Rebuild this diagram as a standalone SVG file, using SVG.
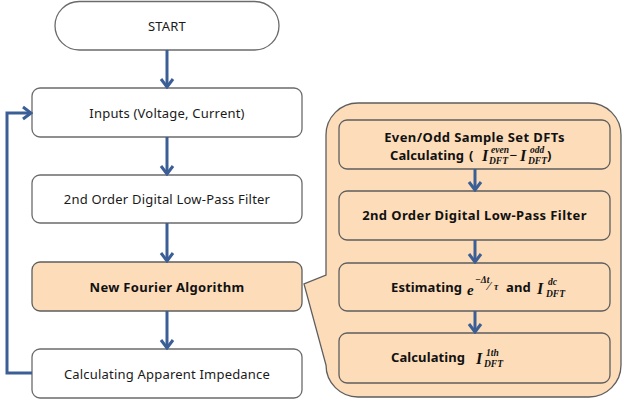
<svg xmlns="http://www.w3.org/2000/svg" width="623" height="404" viewBox="0 0 623 404">
  <style>
    .box { fill: #ffffff; stroke: #6b6b6b; stroke-width: 1.3; }
    .hl { fill: #fcdcb9; stroke: #5e5e5e; stroke-width: 1.3; }
    .lbl { font-family: "Noto Sans", "Open Sans", sans-serif; font-size: 13px; fill: #1a1a1a; text-anchor: middle; letter-spacing: 0.2px; }
    .bold { font-weight: bold; fill: #111111; letter-spacing: 0.3px; }
    .txt { font-family: "Noto Sans", "Open Sans", sans-serif; font-size: 13px; font-weight: bold; fill: #111111; letter-spacing: 0.1px; }
    .wide { letter-spacing: 0.4px; text-anchor: middle; }
    .m { font-family: "Liberation Serif", "DejaVu Serif", serif; font-style: italic; font-weight: bold; fill: #111111; }
    .mi { font-size: 16px; }
    .ms { font-size: 9.5px; }
    .flow { fill: none; stroke: #3b5e96; stroke-width: 3; }
  </style>
  <defs>
    <marker id="chev" markerUnits="userSpaceOnUse" viewBox="-11 -8 13 16" markerWidth="13" markerHeight="16" refX="0" refY="0" orient="auto">
      <path d="M-8,-6 L0,0 L-8,6" fill="none" stroke="#3b5e96" stroke-width="3" stroke-linejoin="miter"/>
    </marker>
  </defs>

  <!-- main flow nodes -->
  <g id="start">
    <rect class="box" x="55" y="1.5" width="224" height="48.5" rx="24.25"/>
    <text class="lbl" x="167" y="31">START</text>
  </g>
  <g id="inputs">
    <rect class="box" x="32" y="88" width="270" height="49" rx="8"/>
    <text class="lbl" x="167" y="118">Inputs (Voltage, Current)</text>
  </g>
  <g id="lowpass">
    <rect class="box" x="32" y="175" width="270" height="48" rx="8"/>
    <text class="lbl" x="167" y="204">2nd Order Digital Low-Pass Filter</text>
  </g>

  <!-- detail callout for the Fourier step -->
  <g id="fourier-detail">
    <path class="hl" d="M358,103 H589 A32,32 0 0 1 621,135 V365 A32,32 0 0 1 589,397 H358 A32,32 0 0 1 326,365 L304,284 L326,275 V135 A32,32 0 0 1 358,103 Z"/>
  </g>

  <g id="fourier">
    <rect class="hl" x="32" y="262" width="270" height="49" rx="8"/>
    <text class="lbl bold" x="167" y="292" font-weight="bold">New Fourier Algorithm</text>
  </g>
  <g id="impedance">
    <rect class="box" x="32" y="349" width="270" height="49" rx="8"/>
    <text class="lbl" x="167" y="379">Calculating Apparent Impedance</text>
  </g>

  <!-- sub-steps -->
  <g id="dfts">
    <rect class="hl" x="339" y="120" width="271" height="49" rx="8"/>
    <text class="txt wide" x="474.5" y="142">Even/Odd Sample Set DFTs</text>
    <text class="txt" x="390" y="160">Calculating</text>
    <text class="txt" x="469" y="160">(</text>
    <text class="m mi" x="482" y="161">I</text>
    <text class="m ms" x="491" y="153">even</text>
    <text class="m ms" x="489" y="164">DFT</text>
    <text class="m" x="509" y="160" font-size="14" font-style="normal">−</text>
    <text class="m mi" x="520" y="161">I</text>
    <text class="m ms" x="530" y="153">odd</text>
    <text class="m ms" x="528" y="164">DFT</text>
    <text class="txt" x="547" y="160">)</text>
  </g>
  <g id="filter2">
    <rect class="hl" x="339" y="191" width="271" height="49" rx="8"/>
    <text class="txt wide" x="474.5" y="220">2nd Order Digital Low-Pass Filter</text>
  </g>
  <g id="estimate">
    <rect class="hl" x="339" y="263" width="271" height="48" rx="8"/>
    <text class="txt" x="391" y="292">Estimating</text>
    <text class="m" x="467" y="295" font-size="15">e</text>
    <text class="m ms" x="475" y="283" font-size="8.5">−Δt</text>
    <text class="m" x="488" y="290" font-size="12" font-style="normal">⁄</text>
    <text class="m ms" x="494" y="290" font-size="8.5">τ</text>
    <text class="txt" x="506" y="292">and</text>
    <text class="m mi" x="537" y="294">I</text>
    <text class="m ms" x="548" y="285">dc</text>
    <text class="m ms" x="546" y="297">DFT</text>
  </g>
  <g id="fundamental">
    <rect class="hl" x="339" y="333" width="271" height="50" rx="8"/>
    <text class="txt" x="391" y="362">Calculating</text>
    <text class="m mi" x="476" y="364">I</text>
    <text class="m ms" x="486" y="356">1th</text>
    <text class="m ms" x="484" y="367">DFT</text>
  </g>

  <!-- connectors -->
  <g id="connectors">
    <line class="flow" x1="167" y1="50" x2="167" y2="87" marker-end="url(#chev)"/>
    <line class="flow" x1="167" y1="137" x2="167" y2="174" marker-end="url(#chev)"/>
    <line class="flow" x1="167" y1="223" x2="167" y2="261" marker-end="url(#chev)"/>
    <line class="flow" x1="167" y1="311" x2="167" y2="348" marker-end="url(#chev)"/>
    <polyline class="flow" points="32,373 7,373 7,113 31,113" marker-end="url(#chev)"/>
    <line class="flow" x1="475" y1="169" x2="475" y2="190" marker-end="url(#chev)"/>
    <line class="flow" x1="475" y1="240" x2="475" y2="262" marker-end="url(#chev)"/>
    <line class="flow" x1="475" y1="311" x2="475" y2="332" marker-end="url(#chev)"/>
  </g>
</svg>
